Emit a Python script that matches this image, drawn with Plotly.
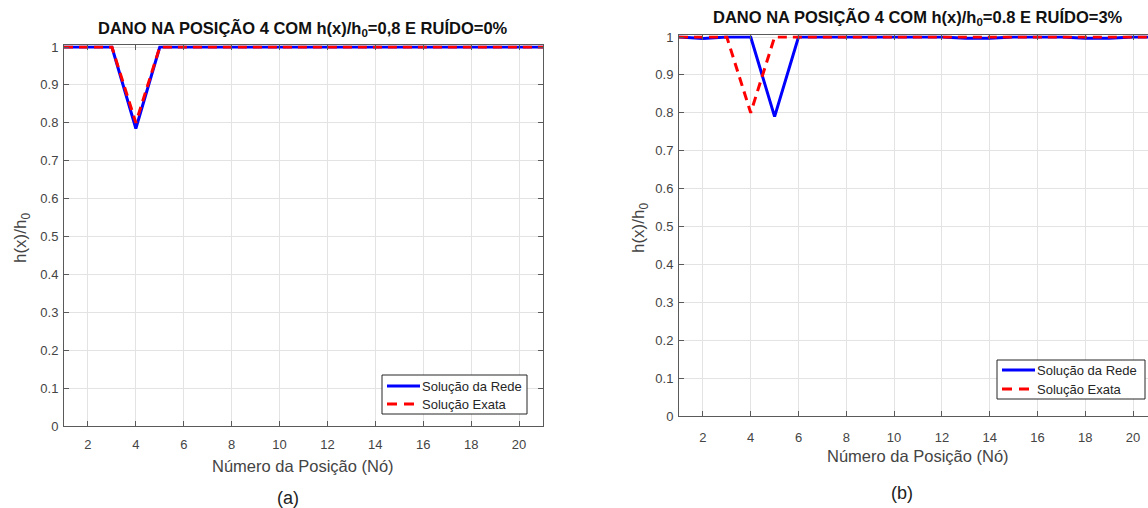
import plotly.graph_objects as go

# ---- data ----
nodes = list(range(1, 22))
rede_a = [1, 1, 1, 0.785, 1, 1, 1, 1, 1, 1, 1, 1, 1, 1, 1, 1, 1, 1, 1, 1, 1]
exata_a = [1, 1, 1, 0.80, 1, 1, 1, 1, 1, 1, 1, 1, 1, 1, 1, 1, 1, 1, 1, 1, 1]
rede_b = [1, 0.996, 1, 1, 0.79, 1, 1, 1, 1, 1, 1, 1, 0.997, 0.997, 1, 1, 1, 0.997, 0.997, 1, 1]
exata_b = [1, 1, 1, 0.80, 1, 1, 1, 1, 1, 1, 1, 1, 1, 1, 1, 1, 1, 1, 1, 1, 1]
xticks = [2, 4, 6, 8, 10, 12, 14, 16, 18, 20]
yticks = [0, 0.1, 0.2, 0.3, 0.4, 0.5, 0.6, 0.7, 0.8, 0.9, 1]
ytick_text = ["0", "0.1", "0.2", "0.3", "0.4", "0.5", "0.6", "0.7", "0.8", "0.9", "1"]
name_rede = "Solução da Rede"
name_exata = "Solução Exata"
title_a = "DANO NA POSIÇÃO 4 COM h(x)/h<sub>0</sub>=0,8 E RUÍDO=0%"
title_b = "DANO NA POSIÇÃO 4 COM h(x)/h<sub>0</sub>=0.8 E RUÍDO=3%"
xlabel = "Número da Posição (Nó)"
ylabel = "h(x)/h<sub>0</sub>"

W, H = 1148, 508
FONT = "Liberation Sans, Arial, sans-serif"
BLUE = "#0000ff"
RED = "#ff0000"
GRID = "#e3e3e3"
AXC = "#5a5a5a"
TXT = "#444444"
DASH = "9px,6px"


def px_x(p):
    return p / W


def px_y(p):
    return 1 - p / H


fig = go.Figure()

# panel a
fig.add_trace(go.Scatter(x=nodes, y=rede_a, mode="lines", name=name_rede, showlegend=False,
                         line=dict(color=BLUE, width=3), xaxis="x", yaxis="y"))
fig.add_trace(go.Scatter(x=nodes, y=exata_a, mode="lines", name=name_exata, showlegend=False,
                         line=dict(color=RED, width=3, dash=DASH), xaxis="x", yaxis="y"))
# panel b
fig.add_trace(go.Scatter(x=nodes, y=rede_b, mode="lines", name=name_rede, showlegend=False,
                         line=dict(color=BLUE, width=3), xaxis="x2", yaxis="y2"))
fig.add_trace(go.Scatter(x=nodes, y=exata_b, mode="lines", name=name_exata, showlegend=False,
                         line=dict(color=RED, width=3, dash=DASH), xaxis="x2", yaxis="y2"))

YTOP = 1.004
UNIT = 379.0  # px per y unit

common_x = dict(tickvals=xticks, ticks="inside", ticklen=5, tickcolor=AXC,
                showgrid=True, gridcolor=GRID, gridwidth=1, zeroline=False,
                showline=True, linecolor=AXC, linewidth=1,
                tickfont=dict(family=FONT, size=13, color=TXT))
common_y = dict(tickvals=yticks, ticktext=ytick_text, ticks="inside", ticklen=5, tickcolor=AXC,
                showgrid=True, gridcolor=GRID, gridwidth=1, zeroline=False,
                showline=True, linecolor=AXC, linewidth=1, range=[0, YTOP],
                ticklabelstandoff=2,
                tickfont=dict(family=FONT, size=13, color=TXT))

A_TOP, A_BOT = 47.0, 426.0
B_TOP, B_BOT = 37.0, 416.0

fig.update_layout(
    width=W, height=H, autosize=False,
    margin=dict(l=0, r=0, t=0, b=0, pad=0, autoexpand=False),
    paper_bgcolor="white", plot_bgcolor="white",
    xaxis=dict(domain=[px_x(64), px_x(543)], range=[1, 21], anchor="y", mirror="ticks",
               ticklabelstandoff=6, **common_x),
    yaxis=dict(domain=[px_y(A_BOT), px_y(A_TOP - (YTOP - 1) * UNIT)], anchor="x", mirror="ticks", **common_y),
    xaxis2=dict(domain=[px_x(679), 1.0], range=[1, 1 + (W - 679) / 23.9], anchor="y2", mirror="ticks",
                ticklabelstandoff=9, **common_x),
    yaxis2=dict(domain=[px_y(B_BOT), px_y(B_TOP - (YTOP - 1) * UNIT)], anchor="x2", mirror=False, **common_y),
    showlegend=False,
)

ann = []
shapes = []


def text(x, y, s, size, color=TXT, bold=False, angle=0, xanchor="center"):
    ann.append(dict(x=px_x(x), y=px_y(y), xref="paper", yref="paper", text=(f"<b>{s}</b>" if bold else s),
                    showarrow=False, xanchor=xanchor, yanchor="middle", textangle=angle,
                    font=dict(family=FONT, size=size, color=color)))


def legend_box(x0, y0, x1, y1, lx0, lx1, ly1, ly2, tx):
    shapes.append(dict(type="rect", xref="paper", yref="paper", x0=px_x(x0), x1=px_x(x1),
                       y0=px_y(y1), y1=px_y(y0), line=dict(color="#262626", width=1), fillcolor="white",
                       layer="above"))
    shapes.append(dict(type="line", xref="paper", yref="paper", x0=px_x(lx0), x1=px_x(lx1),
                       y0=px_y(ly1), y1=px_y(ly1), line=dict(color=BLUE, width=3), layer="above"))
    shapes.append(dict(type="line", xref="paper", yref="paper", x0=px_x(lx0), x1=px_x(lx1),
                       y0=px_y(ly2), y1=px_y(ly2), line=dict(color=RED, width=3, dash="10px,7px"), layer="above"))
    text(tx, ly1, name_rede, 13, color="#262626", xanchor="left")
    text(tx, ly2, name_exata, 13, color="#262626", xanchor="left")


legend_box(382, 375, 527, 414, 387, 420, 386, 404, 420)
legend_box(997, 360, 1145, 399, 1002, 1035, 370, 389, 1035)

text(303, 28, title_a, 16.5, color="#111111", bold=True)
text(918, 17, title_b, 16.5, color="#111111", bold=True)
text(303, 466, xlabel, 16.5)
text(918, 456, xlabel, 16.5)
text(22, 238, ylabel, 17, angle=-90)
text(640, 228, ylabel, 17, angle=-90)
text(288, 498, "(a)", 18, color="#222222")
text(902, 493, "(b)", 18, color="#222222")
fig.update_layout(annotations=ann, shapes=shapes)

fig.write_html("out.html")
